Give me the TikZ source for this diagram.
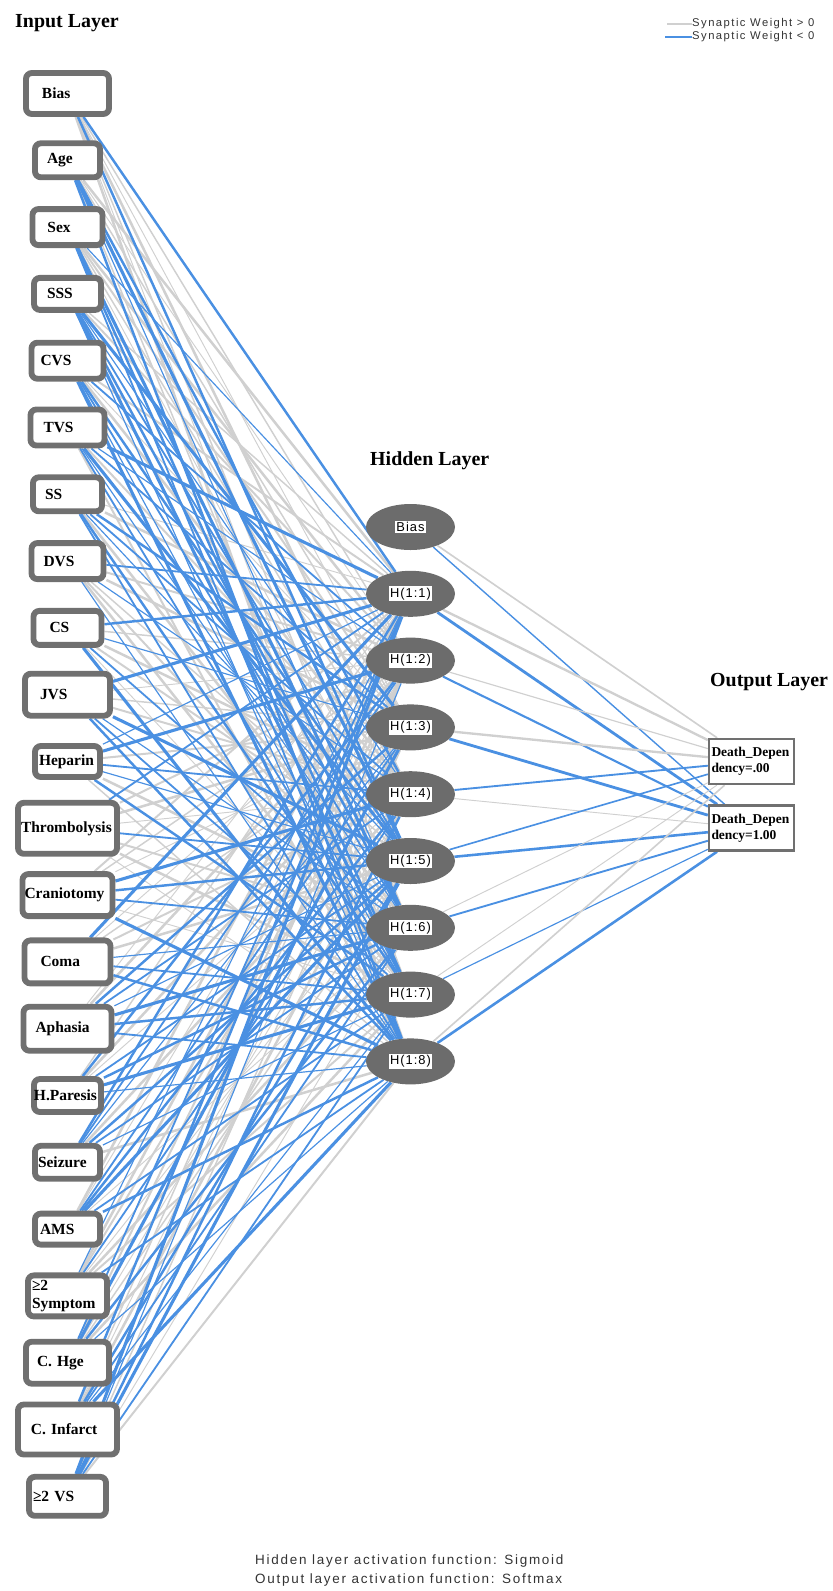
\documentclass[tikz,border=0pt]{standalone}
\usepackage{fontspec}
\setmainfont{Liberation Serif}
\newfontfamily\spssfont[LetterSpace=13]{Liberation Sans}
\newfontfamily\hidfont[LetterSpace=8]{Liberation Sans}
\usepackage{tikz}
\usetikzlibrary{shapes.geometric, backgrounds}
\definecolor{wgray}{RGB}{208,208,208}
\definecolor{wblue}{RGB}{74,144,226}
\definecolor{boxgray}{RGB}{112,112,112}
\definecolor{ellgray}{RGB}{108,108,108}
\newcommand{\hlab}[1]{{\fboxsep=1.2pt\colorbox{white}{#1}}}

\begin{document}
\begin{tikzpicture}[x=0.03cm, y=-0.03cm,
  inbox/.style={rectangle, draw=boxgray, line width=5pt, fill=white, rounded corners=5pt,
                font=\fontsize{13.2}{15}\selectfont\bfseries, align=left,
                inner xsep=0pt, inner ysep=1pt},
  hid/.style={ellipse, fill=ellgray, minimum width=2.67cm, minimum height=1.38cm,
              inner sep=0pt, font=\hidfont\fontsize{11}{12}\selectfont},
  outbox/.style={rectangle, draw=boxgray, line width=2pt, fill=white,
                 minimum width=2.55cm, minimum height=1.35cm, text width=2.4cm,
                 inner xsep=0pt, align=left, font=\fontsize{11.5}{14}\selectfont\bfseries},
  layer/.style={font=\fontsize{17}{19}\selectfont\bfseries, anchor=base west, inner sep=0pt},
  note/.style={font=\spssfont\fontsize{11.5}{12}\selectfont, text=black!80,
               anchor=base west, inner sep=0pt},
  legtext/.style={font=\spssfont\fontsize{9.6}{10}\selectfont, text=black!80,
                  anchor=west, inner sep=0pt},
]
  \useasboundingbox (0,0) rectangle (832,1591);

  % titles
  \node[layer] (tin)  at (15,27)   {Input Layer};
  \node[layer] (thid) at (370,465) {Hidden Layer};
  \node[layer] (tout) at (710,686) {Output Layer};

  % input layer
  \foreach \txt/\w/\h/\p [count=\i] in {
      Bias/89/47/19, Age/71/40/15, Sex/76/42/18, SSS/73/38/16, CVS/78/42/12,
      TVS/80/42/16, SS/75/40/15, DVS/78/42/15, CS/74/40/19, JVS/91/48/18,
      Heparin/71/37/7, Thrombolysis/105/57/6, Craniotomy/96/48/5, Coma/92/49/19,
      Aphasia/94/50/15, H.Paresis/71/39/2, Seizure/71/39/6, AMS/71/37/8,
      {≥2\\Symptom}/85/47/7, C. Hge/89/48/14, C. Infarct/105/56/16, ≥2 VS/83/45/7}{
    \pgfmathsetmacro\yy{93.5+66.8*(\i-1)}
    \pgfmathsetmacro\tw{(\w-2*\p)*0.03}
    \pgfmathsetmacro\mw{(\w-6)*0.03}
    \pgfmathsetmacro\mh{(\h-6)*0.03}
    \node[inbox, minimum width=\mw cm, minimum height=\mh cm, text width=\tw cm]
      (in\i) at (67.5,\yy) {\txt};
  }

  % hidden layer
  \node[hid] (hb) at (410.5,527) {\hlab{Bias}};
  \foreach \k in {1,...,8}{
    \pgfmathsetmacro\yy{527+66.8*\k}
    \node[hid] (h\k) at (410.5,\yy) {\hlab{H(1:\k)}};
  }

  % output layer
  \node[outbox] (o0) at (751.5,761.5) {Death\_Depen\\dency=.00};
  \node[outbox] (o1) at (751.5,828)   {Death\_Depen\\dency=1.00};

  % synaptic weights
  \begin{scope}[on background layer]
    \foreach \pass in {0,1}
      \foreach \i in {1,...,22}
        \foreach \j in {1,...,8}{
          \pgfmathtruncatemacro\sg{mod(3*\i*\i+7*\j*\j+5*\i*\j+\i+2*\j,11)<5 ? 0 : 1}
          \pgfmathtruncatemacro\wd{mod(3*\i+5*\j+2*\i*\j,4)}
          \ifnum\sg=\pass
            \ifnum\sg=0
              \pgfmathsetmacro\lw{0.8+0.45*\wd}
              \draw[wgray, line width=\lw pt] (in\i) -- (h\j);
            \else
              \pgfmathsetmacro\lw{1.0+0.55*\wd}
              \draw[wblue, line width=\lw pt] (in\i) -- (h\j);
            \fi
          \fi
        }
    \foreach \h/\ca/\wa/\cb/\wb in {hb/wgray/1.4/wblue/1.2, h1/wgray/2.0/wblue/2.4,
        h2/wgray/1.0/wblue/1.8, h3/wgray/2.0/wblue/2.4, h4/wblue/1.6/wgray/0.8,
        h5/wblue/1.4/wblue/2.2, h6/wgray/0.8/wblue/1.6, h7/wgray/0.8/wblue/1.0,
        h8/wgray/1.4/wblue/2.2}{
      \draw[\ca, line width=\wa pt] (\h) -- (o0);
      \draw[\cb, line width=\wb pt] (\h) -- (o1);
    }
  \end{scope}

  % legend
  \node[legtext] (lgpos) at (692,24) {Synaptic Weight > 0};
  \node[legtext] (lgneg) at (692,37) {Synaptic Weight < 0};
  \draw[wgray, line width=1.6pt] (lgpos.west) -- ++(-25,0);
  \draw[wblue, line width=2.2pt] (lgneg.west) -- ++(-27,0);

  % activation notes
  \node[note] (acth) at (255,1564) {Hidden layer activation function: Sigmoid};
  \node[note] (acto) at (255,1583) {Output layer activation function: Softmax};
\end{tikzpicture}
\end{document}
